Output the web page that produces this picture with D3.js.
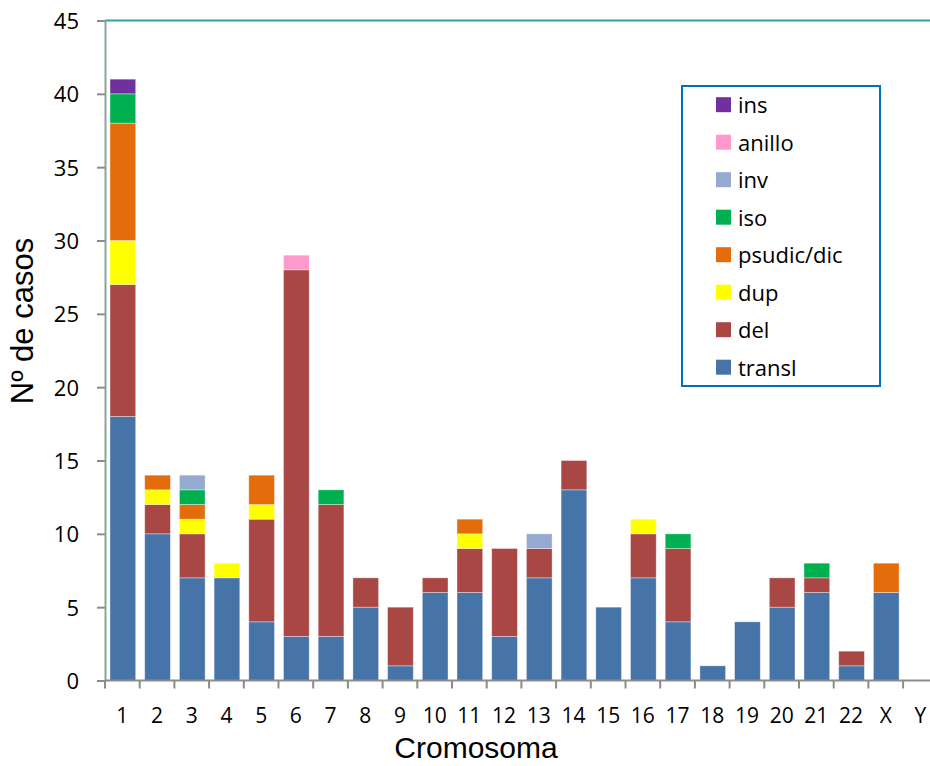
<!DOCTYPE html>
<html>
<head>
<meta charset="utf-8">
<script src="https://cdn.jsdelivr.net/npm/d3@7"></script>
<style>
  html, body { margin: 0; padding: 0; background: #fff; }
  svg { display: block; }
</style>
</head>
<body>
<svg id="chart" width="930" height="766"></svg>
<script>
// ---- data ----
const categories = ["1","2","3","4","5","6","7","8","9","10","11","12","13","14","15","16","17","18","19","20","21","22","X","Y"];
const transl = [18,10,7,7,4,3,3,5,1,6,6,3,7,13,5,7,4,1,4,5,6,1,6,0];
const del    = [9,2,3,0,7,25,9,2,4,1,3,6,2,2,0,3,5,0,0,2,1,1,0,0];
const dup    = [3,1,1,1,1,0,0,0,0,0,1,0,0,0,0,1,0,0,0,0,0,0,0,0];
const psudic = [8,1,1,0,2,0,0,0,0,0,1,0,0,0,0,0,0,0,0,0,0,0,2,0];
const iso    = [2,0,1,0,0,0,1,0,0,0,0,0,0,0,0,0,1,0,0,0,1,0,0,0];
const inv    = [0,0,1,0,0,0,0,0,0,0,0,0,1,0,0,0,0,0,0,0,0,0,0,0];
const anillo = [0,0,0,0,0,1,0,0,0,0,0,0,0,0,0,0,0,0,0,0,0,0,0,0];
const ins    = [1,0,0,0,0,0,0,0,0,0,0,0,0,0,0,0,0,0,0,0,0,0,0,0];
const seriesNames = ["transl","del","dup","psudic/dic","iso","inv","anillo","ins"];
const seriesValues = [transl, del, dup, psudic, iso, inv, anillo, ins];
const seriesColors = ["#4673A8","#A94744","#FFFF00","#E46C0A","#00B050","#95A9D1","#FF99CC","#7030A0"];
const yTicks = [0,5,10,15,20,25,30,35,40,45];

// ---- layout ----
const svg = d3.select("#chart");
const x0 = 105, step = 34.7;
const x = d3.scaleBand().domain(categories).range([x0, x0 + step * categories.length]).padding(0);
const y = d3.scaleLinear().domain([0, 45]).range([680.5, 20.5]);

const rows = categories.map((c, i) => {
  const r = { cat: c };
  seriesNames.forEach((s, k) => r[s] = seriesValues[k][i]);
  return r;
});
const stacked = d3.stack().keys(seriesNames)(rows);
const color = d3.scaleOrdinal().domain(seriesNames).range(seriesColors);

// top border line
svg.append("line").attr("x1", x0).attr("x2", 930).attr("y1", y(45)).attr("y2", y(45))
  .attr("stroke", "#2AA1AA").attr("stroke-width", 2);

// bars
const barW = x.bandwidth() * 0.74;
const gBars = svg.append("g");
stacked.forEach(layer => {
  gBars.selectAll(null).data(layer.filter(d => d[1] - d[0] > 0)).enter().append("rect")
    .attr("x", d => x(d.data.cat) + (x.bandwidth() - barW) / 2 + 0.5)
    .attr("width", barW)
    .attr("y", d => y(d[1]))
    .attr("height", d => y(d[0]) - y(d[1]))
    .attr("fill", color(layer.key))
    .attr("stroke", "#ffffff").attr("stroke-opacity", 0.45).attr("stroke-width", 0.8);
});

// y axis
const yAxis = d3.axisLeft(y).tickValues(yTicks).tickSize(8).tickPadding(18).tickFormat(d3.format("d"));
const gy = svg.append("g").attr("transform", `translate(${x0},0)`).call(yAxis);
gy.select(".domain").attr("stroke", "#8AA3A3").attr("stroke-width", 2);
gy.selectAll(".tick line").attr("stroke", "#8C8C8C").attr("stroke-width", 2);
gy.selectAll(".tick text").attr("font-family", "'Open Sans', sans-serif").attr("font-size", 22).attr("fill", "#000")
  .attr("x", -26).attr("dy", "0.36em");

// x axis (labels)
const xAxis = d3.axisBottom(x).tickSize(0).tickPadding(0);
const gx = svg.append("g").attr("transform", `translate(0,${y(0)})`).call(xAxis);
gx.select(".domain").attr("stroke", "#8C8C8C").attr("stroke-width", 2).attr("d", `M${x0},0H930`);
gx.selectAll(".tick text").attr("font-family", "'Open Sans', sans-serif").attr("font-size", 21).attr("fill", "#000")
  .attr("y", 42).attr("dy", 0);
// x ticks at band boundaries
svg.append("g").selectAll("line").data(categories).enter().append("line")
  .attr("x1", d => x(d)).attr("x2", d => x(d))
  .attr("y1", y(0)).attr("y2", y(0) + 8)
  .attr("stroke", "#8C8C8C").attr("stroke-width", 2);

// axis titles
svg.append("text").attr("x", 476).attr("y", 758).attr("text-anchor", "middle")
  .attr("font-family", "'Liberation Sans', Arial, sans-serif").attr("font-size", 30).attr("fill", "#000")
  .text("Cromosoma");
svg.append("text").attr("transform", "translate(33,321) rotate(-90)").attr("text-anchor", "middle")
  .attr("font-family", "'Liberation Sans', Arial, sans-serif").attr("font-size", 31).attr("fill", "#000")
  .text("Nº de casos");

// legend
const legendOrder = seriesNames.slice().reverse();
const lg = svg.append("g");
lg.append("rect").attr("x", 682).attr("y", 86).attr("width", 198).attr("height", 300)
  .attr("fill", "#fff").attr("stroke", "#0070C0").attr("stroke-width", 2);
const li = lg.selectAll("g.item").data(legendOrder).enter().append("g").attr("class", "item")
  .attr("transform", (d, i) => `translate(0,${104.7 + i * 37.5})`);
li.append("rect").attr("x", 716).attr("y", -7.5).attr("width", 15).attr("height", 15).attr("fill", d => color(d));
li.append("text").attr("x", 738).attr("y", 8.5).attr("font-family", "'Open Sans', sans-serif")
  .attr("font-size", 22).attr("fill", "#000").text(d => d);
</script>
</body>
</html>
